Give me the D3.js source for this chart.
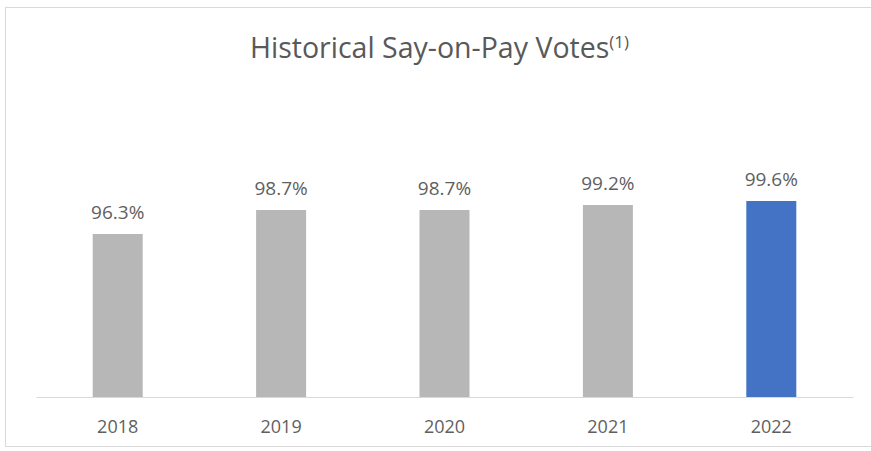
<!DOCTYPE html>
<html>
<head>
<meta charset="utf-8">
<script src="https://cdn.jsdelivr.net/npm/d3@7"></script>
<style>
body { margin: 0; background: #fff; }
</style>
</head>
<body>
<div class="chart"></div>
<script>
const width = 871;
const height = 451;

const years = ["2018", "2019", "2020", "2021", "2022"];
const votes = [96.3, 98.7, 98.7, 99.2, 99.6];
const barColors = ["#b7b7b7", "#b7b7b7", "#b7b7b7", "#b7b7b7", "#4472c4"];

const svg = d3.select(".chart").append("svg")
    .attr("width", width)
    .attr("height", height);

// chart frame
svg.append("rect")
    .attr("x", 5.5)
    .attr("y", 7.5)
    .attr("width", 880)
    .attr("height", 439)
    .attr("fill", "none")
    .attr("stroke", "#d9d9d9")
    .attr("stroke-width", 1);

const title = svg.append("text")
    .attr("x", 250)
    .attr("y", 58)
    .attr("font-family", "Open Sans, sans-serif")
    .attr("font-size", "28.5px")
    .attr("fill", "#595959");
title.append("tspan").text("Historical Say-on-Pay Votes");
title.append("tspan")
    .attr("font-size", "17px")
    .attr("dy", "-10")
    .text("(1)");

const x = d3.scaleBand()
    .domain(years)
    .range([36, 853])
    .paddingInner(0.694)
    .paddingOuter(0.347);

const y = d3.scaleLinear()
    .domain([80, 100])
    .range([397, 197]);

svg.selectAll(".bar")
    .data(years)
    .enter()
    .append("rect")
    .attr("class", "bar")
    .attr("x", d => x(d))
    .attr("y", (d, i) => y(votes[i]))
    .attr("width", x.bandwidth())
    .attr("height", (d, i) => y(80) - y(votes[i]))
    .attr("fill", (d, i) => barColors[i]);

svg.selectAll(".value")
    .data(years)
    .enter()
    .append("text")
    .attr("class", "value")
    .attr("x", d => x(d) + x.bandwidth() / 2)
    .attr("y", (d, i) => y(votes[i]) - 15)
    .attr("text-anchor", "middle")
    .attr("font-family", "Open Sans, sans-serif")
    .attr("font-size", "19px")
    .attr("fill", "#5f5f5f")
    .text((d, i) => votes[i].toFixed(1) + "%");

const xAxis = svg.append("g")
    .attr("transform", "translate(0," + y(80) + ")")
    .call(d3.axisBottom(x).tickSize(0));

xAxis.select(".domain").attr("stroke", "#d9d9d9");
xAxis.selectAll("text")
    .attr("y", 36)
    .attr("dy", 0)
    .attr("font-family", "Open Sans, sans-serif")
    .attr("font-size", "18px")
    .attr("fill", "#5f5f5f");
</script>
</body>
</html>
